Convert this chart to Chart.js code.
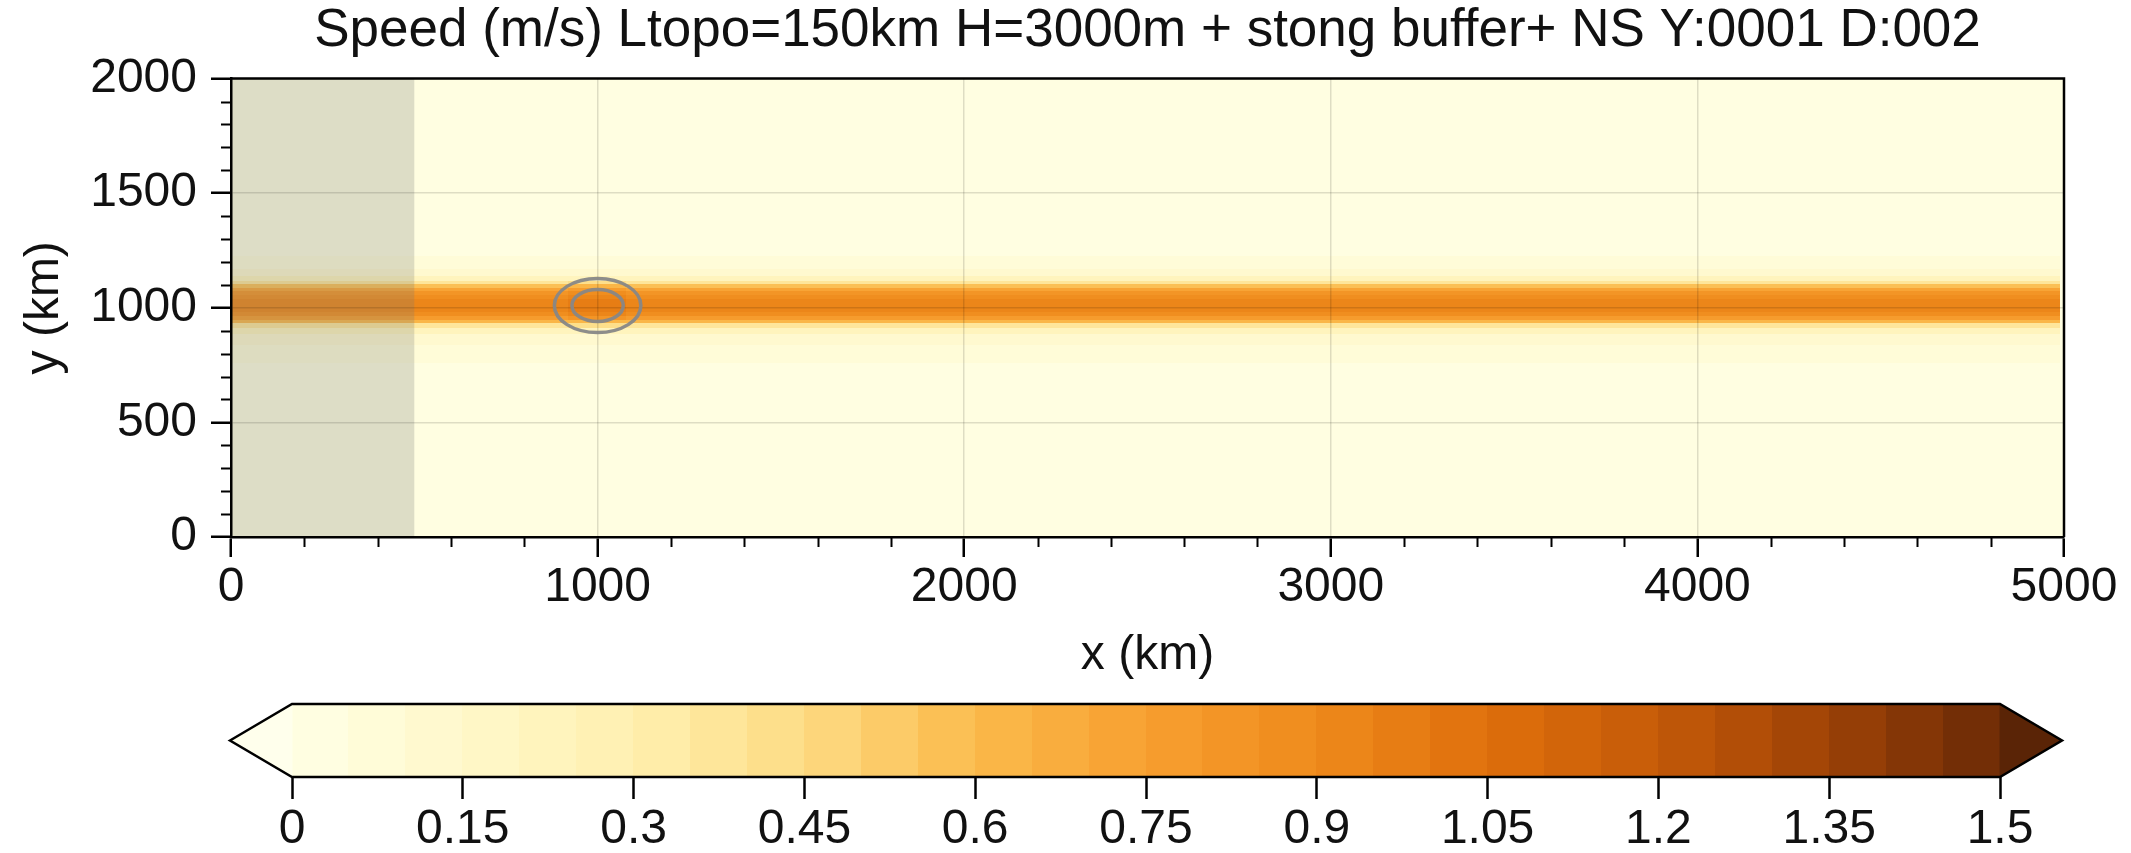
<!DOCTYPE html>
<html><head><meta charset="utf-8">
<script src="https://cdn.jsdelivr.net/npm/chart.js@4/dist/chart.umd.min.js"></script>
<style>
html,body{margin:0;padding:0;background:#fff;}
#wrap{position:relative;width:2131px;height:853px;background:#fff;}
#main{position:absolute;left:0;top:0;width:2131px;height:853px;}
#cbar{position:absolute;left:0;top:690px;width:2131px;height:163px;}
</style></head><body>
<div id="wrap">
<canvas id="main" width="2131" height="853"></canvas>
<canvas id="cbar" width="2131" height="163"></canvas>
</div>
<script>
// ---------------- data ----------------
const titleText = 'Speed (m/s) Ltopo=150km H=3000m + stong buffer+ NS Y:0001 D:002';
const xTicks = [0, 1000, 2000, 3000, 4000, 5000];
const xTickLabels = ['0', '1000', '2000', '3000', '4000', '5000'];
const yTicks = [0, 500, 1000, 1500, 2000];
const yTickLabels = ['0', '500', '1000', '1500', '2000'];
const xMinorStep = 200;
const yMinorStep = 100;

// speed profile across the jet (km edges of rows, speed in m/s), read at mid-domain
const yRowEdges    = [0, 760, 840, 890, 915, 935, 950, 965, 985, 1040, 1060, 1075, 1090, 1105, 1120, 1140, 1170, 1230, 2000];
const speedProfile = [0.03, 0.06, 0.11, 0.20, 0.38, 0.60, 0.78, 0.88, 0.93, 0.89, 0.83, 0.74, 0.58, 0.38, 0.20, 0.11, 0.06, 0.03];

// along-jet variation (km edges of columns, relative strength)
const xSegEdges = [0, 500, 920, 1080, 4990, 5000];
const xSegAmp   = [1.0, 1.0, 1.06, 1.0, 0];

// sponge / buffer zone (km) and terrain contours (km)
const bufferZone = [0, 500];
const terrainCenter = [1000, 1010];
const terrainRadii = [70, 118];

// colour bar
const cbLevels = [0,0.05,0.1,0.15,0.2,0.25,0.3,0.35,0.4,0.45,0.5,0.55,0.6,0.65,0.7,0.75,0.8,0.85,0.9,0.95,1.0,1.05,1.1,1.15,1.2,1.25,1.3,1.35,1.4,1.45,1.5];
const cbTicks  = [0, 0.15, 0.3, 0.45, 0.6, 0.75, 0.9, 1.05, 1.2, 1.35, 1.5];
const cbLabels = ['0','0.15','0.3','0.45','0.6','0.75','0.9','1.05','1.2','1.35','1.5'];
const cmapValues = [0, 0.15, 0.3, 0.45, 0.6, 0.75, 0.9, 1.05, 1.2, 1.35, 1.5];
const cmapColors = ['#FFFFE5','#FFF8CA','#FFF0B0','#FDDB84','#FBBA4C','#F7A030','#EF8A1C','#DF700C','#C55A08','#9E4206','#6A2A06'];
const underColor = '#FFFFEC';
const overColor = '#5A2406';

// ---------------- helpers ----------------
const FONT = "'Liberation Sans', Arial, Helvetica, sans-serif";
function hex2rgb(h){return [parseInt(h.slice(1,3),16),parseInt(h.slice(3,5),16),parseInt(h.slice(5,7),16)];}
function cmapAt(v){
  for (let k=0;k<cmapValues.length-1;k++){
    if (v<=cmapValues[k+1]){
      const t=(v-cmapValues[k])/(cmapValues[k+1]-cmapValues[k]);
      const a=hex2rgb(cmapColors[k]), b=hex2rgb(cmapColors[k+1]);
      return 'rgb('+a.map((c,i)=>Math.round(c+(b[i]-c)*t)).join(',')+')';
    }
  }
  return cmapColors[cmapColors.length-1];
}
const binColors = [];
for (let k=0;k<cbLevels.length-1;k++) binColors.push(cmapAt((cbLevels[k]+cbLevels[k+1])/2));
function colorFor(v){
  if (v<cbLevels[0]) return underColor;
  if (v>=cbLevels[cbLevels.length-1]) return overColor;
  for (let k=0;k<cbLevels.length-1;k++) if (v<cbLevels[k+1]) return binColors[k];
  return overColor;
}

// ---------------- main chart ----------------
const heatPlugin = {
  id: 'heat',
  beforeDraw(chart){
    const {ctx, chartArea:a} = chart, sx = chart.scales.x, sy = chart.scales.y;
    ctx.save();
    ctx.fillStyle = '#fff'; ctx.fillRect(0,0,chart.width,chart.height);
    ctx.beginPath(); ctx.rect(a.left, a.top, a.right-a.left, a.bottom-a.top); ctx.clip();
    for (let i=0;i<xSegAmp.length;i++){
      const x0 = Math.floor(sx.getPixelForValue(xSegEdges[i]));
      const x1 = Math.ceil(sx.getPixelForValue(xSegEdges[i+1]));
      for (let j=0;j<speedProfile.length;j++){
        const yb = Math.ceil(sy.getPixelForValue(yRowEdges[j]));
        const yt = Math.floor(sy.getPixelForValue(yRowEdges[j+1]));
        ctx.fillStyle = colorFor(speedProfile[j]*xSegAmp[i]);
        ctx.fillRect(x0, yt, x1-x0, yb-yt);
      }
    }
    // buffer zone shading
    const bx0 = sx.getPixelForValue(bufferZone[0]), bx1 = sx.getPixelForValue(bufferZone[1]);
    ctx.fillStyle = 'rgba(120,124,118,0.25)';
    ctx.fillRect(bx0, a.top, bx1-bx0, a.bottom-a.top);
    ctx.restore();
  },
  afterDraw(chart){
    const {ctx, chartArea:a} = chart, sx = chart.scales.x, sy = chart.scales.y;
    ctx.save();
    // terrain contours
    const cx = sx.getPixelForValue(terrainCenter[0]), cy = sy.getPixelForValue(terrainCenter[1]);
    ctx.strokeStyle = 'rgba(135,135,135,0.95)'; ctx.lineWidth = 3.5;
    terrainRadii.forEach(r=>{
      const rx = sx.getPixelForValue(terrainCenter[0]+r)-cx;
      const ry = cy - sy.getPixelForValue(terrainCenter[1]+r);
      ctx.beginPath(); ctx.ellipse(cx, cy, rx, ry, 0, 0, Math.PI*2); ctx.stroke();
    });
    // top/right frame
    ctx.strokeStyle = '#000'; ctx.lineWidth = 2.5;
    ctx.beginPath();
    ctx.moveTo(a.left, a.top); ctx.lineTo(a.right, a.top); ctx.lineTo(a.right, a.bottom);
    ctx.stroke();
    // minor ticks
    ctx.lineWidth = 2;
    ctx.beginPath();
    for (let v=sy.min+yMinorStep; v<sy.max; v+=yMinorStep){
      if (yTicks.includes(v)) continue;
      const p = Math.round(sy.getPixelForValue(v))+0.5;
      ctx.moveTo(a.left-10, p); ctx.lineTo(a.left, p);
    }
    for (let v=sx.min+xMinorStep; v<sx.max; v+=xMinorStep){
      if (xTicks.includes(v)) continue;
      const p = Math.round(sx.getPixelForValue(v))+0.5;
      ctx.moveTo(p, a.bottom); ctx.lineTo(p, a.bottom+10);
    }
    ctx.stroke();
    ctx.restore();
  }
};

const tickFont = {family: FONT, size: 48, weight: 'normal'};
const gridColor = 'rgba(0,0,0,0.13)';

new Chart(document.getElementById('main'), {
  type: 'scatter',
  data: {datasets: [{data: [], pointRadius: 0}]},
  options: {
    responsive: false, animation: false, devicePixelRatio: 1,
    layout: {padding: {left: 10, right: 67, top: 0, bottom: 153}},
    plugins: {
      legend: {display: false}, tooltip: {enabled: false},
      title: {display: true, text: titleText, fullSize: false, color: '#111',
              font: {family: FONT, size: 53, weight: 'normal'}, padding: {top: 0, bottom: 15}}
    },
    scales: {
      x: {
        type: 'linear', min: 0, max: 5000,
        afterBuildTicks: s => { s.ticks = xTicks.map(v => ({value: v})); },
        afterFit: s => { s.height = 163; },
        ticks: {color: '#111', font: tickFont, padding: 2, maxRotation: 0, autoSkip: false,
                callback: (v, i) => xTickLabels[i]},
        grid: {color: gridColor, lineWidth: 1.5, tickLength: 20, tickWidth: 2.5, tickColor: '#000'},
        border: {display: true, color: '#000', width: 2.5},
        title: {display: true, text: 'x (km)', color: '#111', font: tickFont, padding: {top: 0, bottom: 15}}
      },
      y: {
        type: 'linear', min: 0, max: 2000,
        afterBuildTicks: s => { s.ticks = yTicks.map(v => ({value: v})); },
        afterFit: s => { s.width = 221; },
        ticks: {color: '#111', font: tickFont, padding: 14, autoSkip: false,
                callback: (v, i) => yTickLabels[i]},
        grid: {color: gridColor, lineWidth: 1.5, tickLength: 20, tickWidth: 2.5, tickColor: '#000'},
        border: {display: true, color: '#000', width: 2.5},
        title: {display: true, text: 'y (km)', color: '#111', font: tickFont, padding: {top: 6, bottom: 0}}
      }
    }
  },
  plugins: [heatPlugin]
});

// ---------------- colour bar ----------------
const cbarPlugin = {
  id: 'cbarDraw',
  afterDraw(chart){
    const {ctx, chartArea:a} = chart, sx = chart.scales.x;
    const top = a.top, bot = a.bottom, mid = (top+bot)/2;
    const xl = sx.getPixelForValue(cbLevels[0]), xr = sx.getPixelForValue(cbLevels[cbLevels.length-1]);
    const arrowW = 62;
    ctx.save();
    for (let k=0;k<binColors.length;k++){
      const x0 = Math.floor(sx.getPixelForValue(cbLevels[k]));
      const x1 = Math.ceil(sx.getPixelForValue(cbLevels[k+1]));
      ctx.fillStyle = binColors[k];
      ctx.fillRect(x0, top, x1-x0, bot-top);
    }
    ctx.fillStyle = underColor;
    ctx.beginPath(); ctx.moveTo(xl+0.5, top); ctx.lineTo(xl-arrowW, mid); ctx.lineTo(xl+0.5, bot); ctx.closePath(); ctx.fill();
    ctx.fillStyle = overColor;
    ctx.beginPath(); ctx.moveTo(xr-0.5, top); ctx.lineTo(xr+arrowW, mid); ctx.lineTo(xr-0.5, bot); ctx.closePath(); ctx.fill();
    ctx.strokeStyle = '#000'; ctx.lineWidth = 2.5; ctx.lineJoin = 'miter';
    ctx.beginPath();
    ctx.moveTo(xl-arrowW, mid); ctx.lineTo(xl, top); ctx.lineTo(xr, top); ctx.lineTo(xr+arrowW, mid);
    ctx.lineTo(xr, bot); ctx.lineTo(xl, bot); ctx.closePath(); ctx.stroke();
    ctx.restore();
  }
};

new Chart(document.getElementById('cbar'), {
  type: 'scatter',
  data: {datasets: [{data: [], pointRadius: 0}]},
  options: {
    responsive: false, animation: false, devicePixelRatio: 1,
    layout: {padding: {left: 292, right: 131, top: 14, bottom: 0}},
    plugins: {legend: {display: false}, tooltip: {enabled: false}},
    scales: {
      x: {
        type: 'linear', min: 0, max: 1.5,
        afterBuildTicks: s => { s.ticks = cbTicks.map(v => ({value: v})); },
        afterFit: s => { s.height = 76; },
        ticks: {color: '#111', font: tickFont, padding: 2, maxRotation: 0, autoSkip: false,
                callback: (v, i) => cbLabels[i]},
        grid: {drawOnChartArea: false, tickLength: 22, tickWidth: 2.5, tickColor: '#000'},
        border: {display: false}
      },
      y: {display: false, min: 0, max: 1}
    }
  },
  plugins: [cbarPlugin]
});
</script>
</body></html>
